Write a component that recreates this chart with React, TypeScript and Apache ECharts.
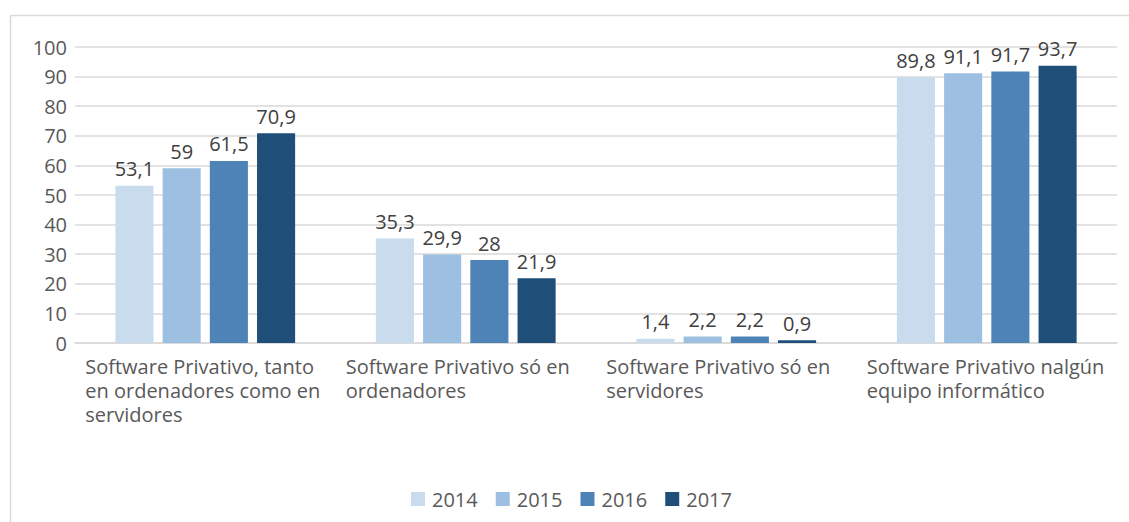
import React, { useEffect, useRef } from "react";
import * as echarts from "echarts";

const categories = [
  "Software Privativo, tanto en ordenadores como en servidores",
  "Software Privativo só en ordenadores",
  "Software Privativo só en servidores",
  "Software Privativo nalgún equipo informático",
];
const seriesNames = ["2014", "2015", "2016", "2017"];
const values2014 = [53.1, 35.3, 1.4, 89.8];
const values2015 = [59, 29.9, 2.2, 91.1];
const values2016 = [61.5, 28, 2.2, 91.7];
const values2017 = [70.9, 21.9, 0.9, 93.7];
const colors = ["#c8dcee", "#9dc0e2", "#4e83b7", "#1f4e79"];

const FONT = "Open Sans";

export default function App() {
  const ref = useRef<HTMLDivElement>(null);
  useEffect(() => {
    document.body.style.margin = "0";
    const chart = echarts.init(ref.current!, null, { renderer: "svg" });
    const allValues = [values2014, values2015, values2016, values2017];
    chart.setOption({
      animation: false,
      backgroundColor: "#ffffff",
      textStyle: { fontFamily: FONT },
      graphic: [
        {
          type: "rect",
          left: 8,
          top: 13,
          shape: { width: 1140, height: 540 },
          style: { fill: "none", stroke: "#d9d9d9", lineWidth: 1.5 },
          z: -10,
        },
      ],
      legend: {
        bottom: 8,
        left: 406,
        itemWidth: 14,
        itemHeight: 14,
        itemGap: 18,
        icon: "rect",
        textStyle: { fontSize: 20, color: "#595959", fontFamily: FONT, padding: [0, 0, 0, 2] },
        data: seriesNames,
      },
      grid: { left: 75, right: 12, top: 47, bottom: 179, containLabel: false, outerBoundsMode: "none" },
      xAxis: {
        type: "category",
        data: categories,
        axisTick: { show: false },
        axisLine: { show: true, lineStyle: { color: "#d9d9d9", width: 1.5 } },
        axisLabel: {
          interval: 0,
          margin: 11,
          width: 255,
          overflow: "break",
          align: "left",
          verticalAlign: "top",
          padding: [0, 0, 0, -120],
          fontSize: 20,
          lineHeight: 24,
          color: "#595959",
          fontFamily: FONT,
          hideOverlap: false,
        },
      },
      yAxis: {
        type: "value",
        min: 0,
        max: 100,
        interval: 10,
        axisLine: { show: false },
        axisTick: { show: false },
        splitLine: { lineStyle: { color: "#d9d9d9", width: 1.5 } },
        axisLabel: { fontSize: 20, color: "#595959", margin: 8, fontFamily: FONT },
      },
      series: seriesNames.map((name, i) => ({
        name,
        type: "bar",
        data: allValues[i],
        barGap: "24%",
        barCategoryGap: "31%",
        itemStyle: { color: colors[i] },
        label: {
          show: true,
          position: "top",
          distance: 7,
          fontSize: 20,
          color: "#404040",
          fontFamily: FONT,
          formatter: (p: any) => String(p.value).replace(".", ","),
        },
      })),
    });
    return () => chart.dispose();
  }, []);
  return <div ref={ref} style={{ position: "fixed", left: 0, top: 0, width: 1129, height: 522 }} />;
}
